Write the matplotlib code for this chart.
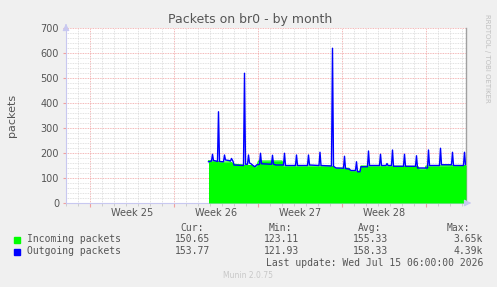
import matplotlib
matplotlib.use("Agg")
import matplotlib.pyplot as plt
from matplotlib.ticker import MultipleLocator, FixedLocator, NullFormatter

# ---- data (time in hours since left edge of the graph window) ----
out_t = [285, 291, 293, 295, 300, 303, 305, 307, 315, 317, 319, 326, 329, 331, 334, 336,
         355, 357, 359, 363, 365, 367, 370, 374, 378, 381, 387, 389, 391, 411, 413, 415,
         420, 435, 437, 439, 459, 461, 463, 483, 485, 487, 506, 508, 510, 531, 533, 535,
         540, 555, 557, 559, 566, 570, 579, 581, 583, 588, 590, 603, 605, 607, 627, 629,
         631, 640, 642, 644, 651, 653, 655, 675, 677, 679, 699, 701, 703, 723, 725, 727,
         747, 749, 751, 771, 773, 775, 795, 797, 799, 800]
out_v = [165, 168, 195, 170, 168, 166, 365, 166, 165, 192, 172, 170, 168, 178, 167, 152,
         150, 519, 155, 155, 192, 160, 157, 150, 145, 152, 155, 199, 157, 155, 191, 155,
         152, 152, 199, 150, 150, 192, 150, 150, 192, 152, 150, 203, 150, 148, 619, 147,
         140, 139, 187, 138, 136, 130, 130, 165, 125, 125, 145, 145, 208, 150, 150, 195,
         150, 150, 158, 150, 150, 212, 147, 147, 195, 147, 147, 189, 140, 140, 212, 150,
         150, 219, 153, 153, 203, 150, 150, 203, 154, 154]

in_t = [285, 300, 312, 328, 336, 354, 358, 372, 378, 382, 385, 432, 434, 530, 534, 538,
        566, 568, 588, 590, 704, 706, 718, 720, 800]
in_v = [169, 167, 163, 165, 155, 152, 150, 150, 142, 150, 168, 168, 148, 148, 145, 139,
        139, 127, 127, 148, 146, 136, 136, 148, 150]

week_pos = [132, 300, 468, 636]
week_labels = ["Week 25", "Week 26", "Week 27", "Week 28"]
week_bounds = [48, 216, 384, 552, 720]

series_names = ["Incoming packets", "Outgoing packets"]
series_colors = ["#00ff00", "#0000ff"]
cur = ["150.65", "153.77"]
mins = ["123.11", "121.93"]
avgs = ["155.33", "158.33"]
maxs = ["3.65k", "4.39k"]

W, H = 497, 287
fig = plt.figure(figsize=(W / 100, H / 100), dpi=100, facecolor="#f0f0f0")
L, R, T, B = 66, 466, 28, 203
ax = fig.add_axes([L / W, 1 - B / H, (R - L) / W, (B - T) / H])
ax.set_facecolor("white")
ax.set_xlim(0, 800)
ax.set_ylim(0, 700)

# grid
ax.yaxis.set_major_locator(MultipleLocator(100))
ax.yaxis.set_minor_locator(MultipleLocator(20))
ax.xaxis.set_major_locator(FixedLocator(week_bounds))
ax.xaxis.set_minor_locator(MultipleLocator(24))
ax.xaxis.set_major_formatter(NullFormatter())
ax.grid(which="minor", color="#d8d8d8", linestyle=(0, (1, 1)), linewidth=0.6)
ax.grid(which="major", color="#f0a0a0", linestyle=(0, (1, 1)), linewidth=0.6)
ax.set_axisbelow(True)

ax.fill_between(in_t, in_v, 0, color="#00ff00", linewidth=0, zorder=3)
ax.plot(in_t, in_v, color="#00ff00", linewidth=0.8, zorder=3)
ax.plot(out_t, out_v, color="#0000ff", linewidth=1.0, zorder=4)

ax.spines["top"].set_visible(False)
ax.spines["right"].set_color("#a0a0a0")
ax.spines["right"].set_linewidth(1.0)
ax.spines["left"].set_color("#c8c8f0")
ax.spines["bottom"].set_color("#c8c8f0")
ax.spines["left"].set_linewidth(0.8)
ax.spines["bottom"].set_linewidth(0.8)

ax.tick_params(axis="y", which="major", length=2, color="#f0a0a0", labelsize=7,
               labelcolor="#555555", pad=3)
ax.tick_params(axis="y", which="minor", length=0)
ax.tick_params(axis="x", which="major", length=3, color="#f0a0a0", pad=1)
ax.tick_params(axis="x", which="minor", length=2, color="#c8c8c8")

for p, lab in zip(week_pos, week_labels):
    ax.text(p, -38, lab, ha="center", va="center", fontsize=7, color="#555555",
            transform=ax.transData, clip_on=False)

# axis arrows
arrow = dict(arrowstyle="-|>,head_length=0.4,head_width=0.2", color="#c8c8f0", lw=0.8)
ax.annotate("", xy=(R + 8, H - B), xytext=(R, H - B), xycoords="figure pixels",
            arrowprops=arrow)
ax.annotate("", xy=(L, H - (T - 7)), xytext=(L, H - T), xycoords="figure pixels",
            arrowprops=arrow)

# titles
fig.text(250 / W, 1 - 19 / H, "Packets on br0 - by month", ha="center", va="center",
         fontsize=9, color="#555555")
fig.text(12 / W, 1 - 115 / H, "packets", rotation=90, ha="center", va="center",
         fontsize=8, color="#555555")
fig.text(487 / W, 1 - 58 / H, "RRDTOOL / TOBI OETIKER", rotation=270, ha="center",
         va="center", fontsize=5, color="#c0c0c0")

# legend
mono = "DejaVu Sans Mono"
fs = 7
tc = "#555555"
def ftxt(x, y, s, ha="left"):
    fig.text(x / W, 1 - y / H, s, ha=ha, va="center", fontsize=fs, color=tc,
             family=mono)

ftxt(204, 228, "Cur:", "right")
ftxt(292, 228, "Min:", "right")
ftxt(381, 228, "Avg:", "right")
ftxt(470, 228, "Max:", "right")
rows_y = [239.5, 251.5]
for i, y in enumerate(rows_y):
    fig.patches.append(plt.Rectangle((14 / W, 1 - (y + 3) / H), 6 / W, 6 / H,
                                     transform=fig.transFigure, color=series_colors[i],
                                     figure=fig))
    ftxt(27, y, series_names[i])
    ftxt(210, y, cur[i], "right")
    ftxt(299, y, mins[i], "right")
    ftxt(388, y, avgs[i], "right")
    ftxt(483, y, maxs[i], "right")
ftxt(483, 263.5, "Last update: Wed Jul 15 06:00:00 2026", "right")
fig.text(248 / W, 1 - 276 / H, "Munin 2.0.75", ha="center", va="center", fontsize=5.5,
         color="#c8c8c8")

fig.savefig("out.png", dpi=100, facecolor=fig.get_facecolor())
